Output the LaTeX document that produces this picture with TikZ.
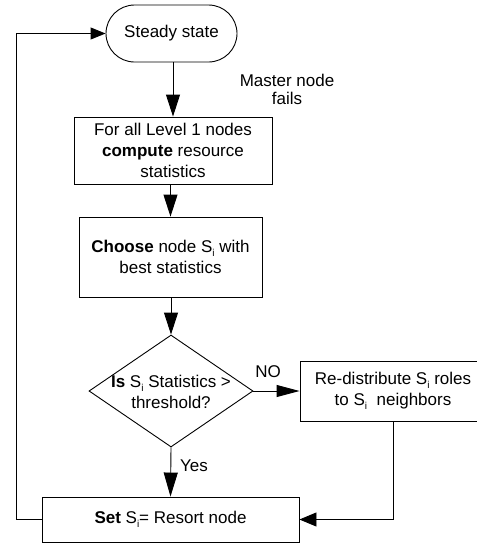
\documentclass[tikz,border=0pt]{standalone}
\usepackage{fontspec}
\setmainfont{Liberation Sans}
\usetikzlibrary{shapes.geometric,arrows.meta}
\newcommand{\Si}{S\raisebox{-3.5pt}{\fontsize{10}{10}\selectfont i}}
\begin{document}
\begin{tikzpicture}[x=1pt,y=-1pt,
  every node/.style={font=\fontsize{17}{21}\selectfont, align=center, inner sep=0pt},
  box/.style={draw, line width=0.9pt, rectangle},
  conn/.style={line width=0.9pt},
  arr/.style={line width=0.9pt, -{Triangle[length=22pt,width=14pt]}},
]
\useasboundingbox (0,0) rectangle (477,544);
\clip (0,0) rectangle (477,544);

\node[box, rounded corners=28.5pt, minimum width=131pt, minimum height=57pt] (steady) at (171.5,33.5) {Steady state};
\node[box, minimum width=198pt, minimum height=67pt] (comp) at (173,150.5)
  {For all Level 1 nodes\\\textbf{compute} resource\\statistics};
\node[box, minimum width=183pt, minimum height=80pt] (choose) at (170.5,257)
  {\textbf{Choose} node \Si{} with\\best statistics};
\node[diamond, draw, line width=0.9pt, minimum width=164pt, minimum height=112pt] (dec) at (171,391) {};
\node (dectext) at (171,392) {\textbf{Is} \Si{} Statistics >\\threshold?};
\node[box, minimum width=186pt, minimum height=60pt] (redis) at (393,391)
  {Re-distribute \Si{} roles\\to \Si{}\ \ neighbors};
\node[box, minimum width=257pt, minimum height=45pt] (set) at (170.5,519.5)
  {\textbf{Set} \Si{}= Resort node};

\node[font=\fontsize{17}{18}\selectfont] (master) at (287,89.5) {Master node\\fails};
\node (no) at (268,372) {NO};
\node (yes) at (194,466) {Yes};

\draw[arr] (steady.south -| comp.north) -- (comp.north);
\draw[arr] (comp.south -| choose.north) -- (choose.north);
\draw[arr] (choose.south -| dec.north) -- (dec.north);
\draw[conn, -{Triangle[length=23pt,width=12pt]}] (dec.east) -- (redis.west);
\draw[line width=0.9pt, -{Triangle[length=24pt,width=14pt]}] (dec.south) -- (set.north);
\coordinate (lb) at (16,519.5);
\coordinate (lt) at (16,33.5);
\draw[conn, -{Triangle[length=15pt,width=12pt]}] (set.west) -- (lb) -- (lt) -- (steady.west);
\coordinate (rb) at (redis.south |- set.east);
\draw[conn, -{Triangle[length=17pt,width=14pt]}] (redis.south) -- (rb) -- (set.east);
\end{tikzpicture}
\end{document}
